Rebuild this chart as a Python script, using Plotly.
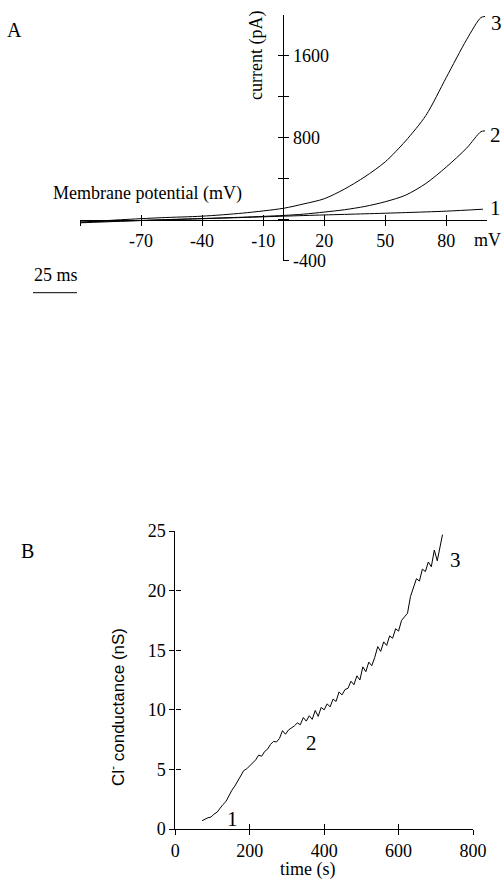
import plotly.graph_objects as go

# ---------------- Panel A data (I-V curves) ----------------
mv = [-100, -80, -60, -40, -20, 0, 10, 20, 30, 40, 50, 60, 70, 80, 90, 97, 99]
cur3 = [-25, 0, 20, 35, 65, 112, 155, 205, 300, 420, 566, 770, 1020, 1390, 1760, 1975, 1985]
cur2 = [-30, -15, 0, 12, 25, 42, 55, 75, 98, 130, 176, 240, 355, 515, 700, 860, 868]
mv1 = [-100, -80, -60, -40, -20, 0, 20, 40, 60, 80, 98]
cur1 = [-22, -12, -2, 10, 22, 35, 47, 58, 70, 84, 103]

a_xticks = [-70, -40, -10, 20, 50, 80]
a_xlabels = ["-70", "-40", "-10", "20", "50", "80"]
a_xminor = [-100]
a_yticks = [-400, 800, 1600]
a_ylabels = ["-400", "800", "1600"]
a_yminor = [0, 400, 1200]

# ---------------- Panel B data (conductance vs time) ----------------
t_s = [72, 80, 88, 96, 104, 112, 120, 128, 136, 144, 152, 160, 168, 176, 184, 192,
       200, 208, 216, 224, 232, 240, 248, 256, 264, 272, 280, 288, 296, 304, 312, 320,
       328, 336, 344, 352, 360, 368, 376, 384, 392, 400, 408, 416, 424, 432, 440, 448,
       456, 464, 472, 480, 488, 496, 504, 512, 520, 528, 536, 544, 552, 560, 568, 576,
       584, 592, 600, 608, 616, 624, 632, 640, 648, 656, 664, 672, 680, 688, 696, 704,
       712, 718]
g_ns = [0.70, 0.85, 0.95, 1.00, 1.25, 1.40, 1.75, 2.05, 2.30, 2.85, 3.25, 3.60, 4.05, 4.40, 4.90, 5.05,
        5.30, 5.55, 5.80, 6.20, 6.10, 6.50, 6.70, 7.10, 7.35, 7.30, 7.60, 8.25, 7.95, 8.30, 8.45, 8.65,
        8.90, 8.75, 9.35, 9.05, 9.50, 9.20, 9.95, 9.45, 10.20, 10.00, 10.50, 10.25, 10.90, 10.70, 11.50, 11.25,
        11.70, 11.80, 12.40, 12.10, 12.85, 12.50, 13.60, 13.20, 14.00, 13.70, 14.40, 15.30, 14.90, 15.70, 15.40, 16.20,
        16.00, 16.80, 16.60, 17.50, 17.80, 18.10, 19.50, 20.20, 21.00, 20.80, 21.80, 21.60, 22.40, 22.00, 23.40, 22.50,
        23.80, 24.70]

b_xticks = [0, 200, 400, 600, 800]
b_yticks = [0, 5, 10, 15, 20, 25]

W, H = 504, 880
def px(x):
    return x / W
def py(y):
    return 1 - y / H

SERIF = "Liberation Serif"
SANS = "Liberation Sans"
BLACK = "black"

fig = go.Figure()
sline = dict(color=BLACK, width=1, shape="spline", smoothing=0.8)
fig.add_trace(go.Scatter(x=mv, y=cur3, mode="lines", line=sline, xaxis="x", yaxis="y", showlegend=False))
fig.add_trace(go.Scatter(x=mv, y=cur2, mode="lines", line=sline, xaxis="x", yaxis="y", showlegend=False))
fig.add_trace(go.Scatter(x=mv1, y=cur1, mode="lines", line=sline, xaxis="x", yaxis="y", showlegend=False))
fig.add_trace(go.Scatter(x=[None], y=[None], xaxis="x3", yaxis="y3", showlegend=False, hoverinfo="skip"))
fig.add_trace(go.Scatter(x=t_s, y=g_ns, mode="lines", line=dict(color=BLACK, width=1),
                         xaxis="x2", yaxis="y2", showlegend=False))
fig.add_trace(go.Scatter(x=[None], y=[None], xaxis="x4", yaxis="y4", showlegend=False, hoverinfo="skip"))

tickfont = dict(family=SERIF, size=18, color=BLACK)

a_xdom = [px(80), px(487)]
a_ydom = [py(260.7), py(15)]
a_xrange = [-100, 100]
a_yrange = [-400, 2000]
a_xpos = py(219.7)
a_ypos = px(283.3)

b_xdom = [px(175.3), px(473)]
b_ydom = [py(829), py(531)]

common = dict(showgrid=False, zeroline=False, linecolor=BLACK, linewidth=1, automargin=False,
              tickcolor=BLACK, tickwidth=1, ticklen=5, tickfont=tickfont)

def minor(vals, side):
    return dict(tickmode="array", tickvals=vals, ticks=side, ticklen=5,
                tickcolor=BLACK, tickwidth=1, showgrid=False)

fig.update_layout(
    width=W, height=H,
    margin=dict(l=0, r=0, t=0, b=0, autoexpand=False),
    paper_bgcolor="white", plot_bgcolor="white",
    font=dict(family=SERIF, size=18, color=BLACK),
    showlegend=False,
    xaxis=dict(domain=a_xdom, range=a_xrange, anchor="free", position=a_xpos,
               showline=True, ticks="outside", tickmode="array", tickvals=a_xticks,
               ticktext=a_xlabels, minor=minor(a_xminor, "outside"), **common),
    yaxis=dict(domain=a_ydom, range=a_yrange, anchor="free", position=a_ypos, side="right",
               showline=True, ticks="outside", tickmode="array", tickvals=a_yticks,
               ticktext=a_ylabels, minor=minor(a_yminor, "outside"), **common),
    xaxis3=dict(domain=a_xdom, range=a_xrange, anchor="free", position=a_xpos, overlaying="x",
                showline=False, ticks="inside", tickmode="array", tickvals=a_xticks,
                minor=minor(a_xminor, "inside"), showticklabels=False, **common),
    yaxis3=dict(domain=a_ydom, range=a_yrange, anchor="free", position=a_ypos, overlaying="y",
                side="right", showline=False, ticks="inside", tickmode="array", tickvals=a_yticks,
                minor=minor(a_yminor, "inside"), showticklabels=False, **common),
    xaxis2=dict(domain=b_xdom, range=[0, 800], anchor="y2", showline=True, ticks="outside",
                tickmode="array", tickvals=b_xticks, **common),
    yaxis2=dict(domain=b_ydom, range=[0, 25], anchor="x2", showline=True, ticks="outside",
                tickmode="array", tickvals=b_yticks, **common),
    xaxis4=dict(domain=b_xdom, range=[0, 800], anchor="free", position=b_ydom[0], overlaying="x2",
                showline=False, ticks="inside", tickmode="array", tickvals=b_xticks,
                showticklabels=False, **common),
    yaxis4=dict(domain=b_ydom, range=[0, 25], anchor="free", position=b_xdom[0], overlaying="y2",
                showline=False, ticks="inside", tickmode="array", tickvals=b_yticks,
                showticklabels=False, **common),
)

def ann(text, x, y, size=18, family=SERIF, angle=0, xanchor="center"):
    fig.add_annotation(text=text, x=px(x), y=py(y), xref="paper", yref="paper",
                       showarrow=False, xanchor=xanchor, yanchor="middle", textangle=angle,
                       font=dict(family=family, size=size, color=BLACK))

ann("A", 14.5, 30, size=20)
ann("current (pA)", 257, 56, size=18, angle=-90)
ann("Membrane potential (mV)", 147, 193, size=18)
ann("mV", 487, 240, size=18)
ann("3", 496, 23, size=21)
ann("2", 495, 135, size=21)
ann("1", 495, 208, size=21)
ann("25 ms", 56, 275, size=18)

ann("B", 27, 551, size=20)
ann("Cl<sup>-</sup> conductance (nS)", 117, 707, size=17, family=SANS, angle=-90)
ann("time (s)", 308, 869, size=18)
ann("1", 232, 819, size=21)
ann("2", 311, 743, size=21)
ann("3", 455, 560, size=21)

# 25 ms scale bar
fig.add_shape(type="line", xref="paper", yref="paper", x0=px(33), x1=px(77),
              y0=py(292.7), y1=py(292.7), line=dict(color=BLACK, width=1))

# remove the default page margin so the 504x880 figure fills the window exactly
fig.write_html("out.html", config={"displayModeBar": False},
               post_script="document.body.style.margin='0';document.body.style.overflow='hidden';")
